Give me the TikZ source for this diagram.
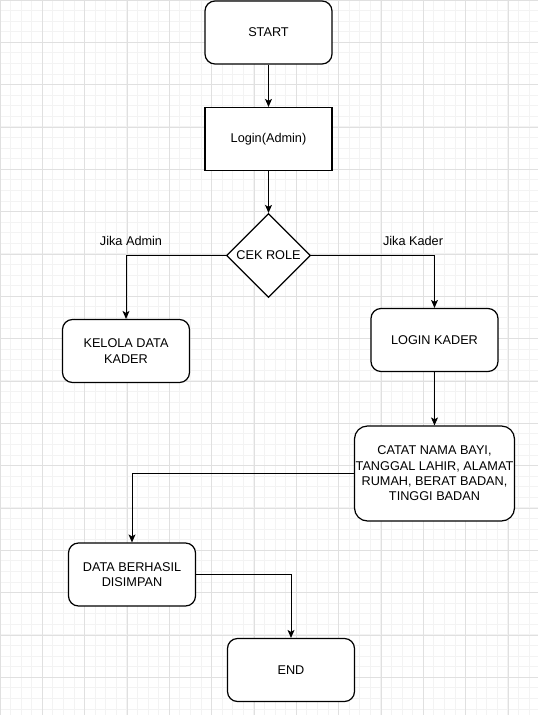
\documentclass[tikz,border=0pt]{standalone}
\usepackage{fontspec}
\setmainfont{Liberation Sans}
\usetikzlibrary{shapes.geometric,arrows.meta}
\definecolor{gridminor}{HTML}{F3F3F3}
\definecolor{gridmajor}{HTML}{E0E0E0}
\begin{document}
\begin{tikzpicture}[x=1pt,y=-1pt,
  every node/.style={font=\fontsize{12.7}{15.3}\selectfont, align=center, text=black},
  rbox/.style={draw=black, line width=1.2pt, fill=white, rounded corners=10pt, minimum width=127pt, minimum height=63pt, inner sep=2pt},
  sbox/.style={draw=black, line width=1.2pt, fill=white, minimum width=127pt, minimum height=63pt},
  dbox/.style={diamond, draw=black, line width=1.2pt, fill=white, aspect=1, minimum width=84pt, minimum height=84pt, inner sep=0pt},
  lbl/.style={inner sep=0pt},
  arr/.style={draw=black, line width=1pt, -{Stealth[length=8pt,width=7pt,inset=2pt]}},
  minorln/.style={gridminor, line width=1pt},
  majorln/.style={gridmajor, line width=1pt}]
\useasboundingbox (0,0) rectangle (538,715);
\fill[white] (0,0) rectangle (538,715);
\foreach \i in {0,...,50} {\draw[minorln] ({\i*10.583},0) -- ({\i*10.583},715);}
\foreach \i in {0,...,67} {\draw[minorln] (0,{\i*10.583}) -- (538,{\i*10.583});}
\foreach \i in {0,...,12} {\draw[majorln] ({\i*42.333},0) -- ({\i*42.333},715);}
\foreach \i in {0,...,16} {\draw[majorln] (0,{\i*42.333}) -- (538,{\i*42.333});}

\node[rbox] (start) at (268.5,32.5) {START};
\node[sbox] (login) at (268.5,139) {Login(Admin)};
\node[dbox] (cek) at (268.5,255.5) {CEK ROLE};
\node[rbox] (kelola) at (126,351) {KELOLA DATA\\KADER};
\node[rbox] (lk) at (434.5,340) {LOGIN KADER};
\node[rbox, rounded corners=13pt, minimum width=160pt, minimum height=95pt, inner sep=0pt] (catat) at (434.5,473.5) {CATAT NAMA BAYI,\\TANGGAL LAHIR, ALAMAT\\RUMAH, BERAT BADAN,\\TINGGI BADAN};
\node[rbox] (dbs) at (132,574.5) {DATA BERHASIL\\DISIMPAN};
\node[rbox] (end) at (291,670) {END};

\node[lbl] (ja) at (131,241) {Jika Admin};
\node[lbl] (jk) at (413,241) {Jika Kader};

\draw[arr] (start) -- (login);
\draw[arr] (login) -- (cek);
\draw[arr] (cek.west) -| (kelola.north);
\draw[arr] (cek.east) -| (lk.north);
\draw[arr] (lk) -- (catat);
\draw[arr] (catat.west) -| (dbs.north);
\draw[arr] (dbs.east) -| (end.north);
\end{tikzpicture}
\end{document}
